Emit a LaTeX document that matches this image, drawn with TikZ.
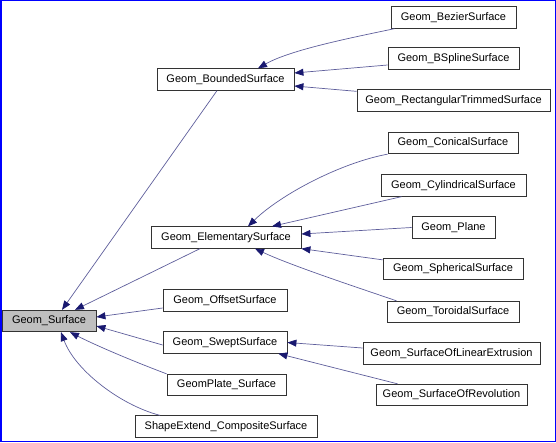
\documentclass[tikz,border=0pt]{standalone}
\usepackage{fontspec}
\setmainfont{Liberation Sans}
\usepackage{tikz}
\usetikzlibrary{arrows.meta, calc, positioning}

\definecolor{edgeblue}{RGB}{25,25,112}
\definecolor{boxgray}{RGB}{191,191,191}

\begin{document}
\begin{tikzpicture}[x=1pt,y=-1pt,
    cls/.style={draw=black!80,fill=white,line width=0.8pt,minimum height=21.5pt,inner sep=1pt,font=\fontsize{11}{13}\selectfont},
    inh/.style={draw=edgeblue!70,line width=0.7pt,-{Triangle[length=9pt,width=7pt,color=edgeblue]}}]
            \useasboundingbox (0,0) rectangle (556,443);
            %\draw [step=20] (0,0) grid (556,443);
            \draw[blue,line width=1.5pt] (0.75,0.75) rectangle (555.25,441.5);

            % root
            \node[cls,fill=boxgray,minimum width=94pt] (surf) at (49,321) {Geom\_Surface};

            % direct children
            \node[cls,minimum width=137pt] (bounded) at (225.5,79.5) {Geom\_BoundedSurface};
            \node[cls,minimum width=150pt] (elem) at (226,237.5) {Geom\_ElementarySurface};
            \node[cls,minimum width=124pt] (offset) at (225,300.5) {Geom\_OffsetSurface};
            \node[cls,minimum width=124pt] (swept) at (225,342.5) {Geom\_SweptSurface};
            \node[cls,minimum width=119pt] (plate) at (226.5,385) {GeomPlate\_Surface};
            \node[cls,minimum width=182pt] (compsurf) at (226,426.5) {ShapeExtend\_CompositeSurface};

            % right column
            \node[cls,minimum width=125pt] (bezier) at (453.5,17.5) {Geom\_BezierSurface};
            \node[cls,minimum width=131pt] (bspline) at (453.5,58.5) {Geom\_BSplineSurface};
            \node[cls,minimum width=193pt] (recttrim) at (453.5,100.5) {Geom\_RectangularTrimmedSurface};
            \node[cls,minimum width=130pt] (conical) at (453,143) {Geom\_ConicalSurface};
            \node[cls,minimum width=145pt] (cylindrical) at (453.5,185.5) {Geom\_CylindricalSurface};
            \node[cls,minimum width=83pt] (plane) at (453.5,227.5) {Geom\_Plane};
            \node[cls,minimum width=140pt] (spherical) at (453,269) {Geom\_SphericalSurface};
            \node[cls,minimum width=132pt] (toroidal) at (453,312) {Geom\_ToroidalSurface};
            \node[cls,minimum width=177pt] (linext) at (451.5,353.5) {Geom\_SurfaceOfLinearExtrusion};
            \node[cls,minimum width=151pt] (revol) at (451.5,395) {Geom\_SurfaceOfRevolution};

            % into Geom_Surface
            \draw[inh] ([xshift=-8.5pt]bounded.south) -- ([xshift=13pt]surf.north);
            \draw[inh] ([xshift=-26pt]elem.south) -- ([xshift=26pt]surf.north);
            \draw[inh] ([yshift=-7.5pt]offset.west) -- ([yshift=4pt]surf.east);
            \draw[inh] ([yshift=-2.5pt]swept.west) -- ([yshift=-5pt]surf.east);
            \draw[inh] (plate.north west) .. controls (130,360) and (95,345) .. ([xshift=21pt]surf.south);
            \draw[inh] ([xshift=-66pt]compsurf.north) .. controls (120,405) and (75,370) .. ([xshift=12pt]surf.south);

            % into Geom_BoundedSurface
            \draw[inh] ([xshift=4pt]bezier.south west) .. controls (350,38) and (290,50) .. ([xshift=32.5pt]bounded.north);
            \draw[inh] ([yshift=-6.5pt]bspline.west) -- ([yshift=6.5pt]bounded.east);
            \draw[inh] ([yshift=-2pt]recttrim.north west) -- ([yshift=-6.5pt]bounded.east);

            % into Geom_ElementarySurface
            \draw[inh] (conical.south west) .. controls (340,163) and (280,195) .. ([xshift=22pt]elem.north);
            \draw[inh] ([xshift=21pt]cylindrical.south west) -- ([xshift=46pt]elem.north);
            \draw[inh] (plane.west) -- ([yshift=3.5pt]elem.east);
            \draw[inh] ([yshift=-2pt]spherical.north west) -- (elem.south east);
            \draw[inh] ([xshift=10pt]toroidal.north west) .. controls (350,285) and (290,265) .. ([xshift=29pt]elem.south);

            % into Geom_SweptSurface
            \draw[inh] ([yshift=5.5pt]linext.west) -- (swept.east);
            \draw[inh] ([xshift=22pt]revol.north west) -- ([xshift=-9pt]swept.south east);
        \end{tikzpicture}
\end{document}
